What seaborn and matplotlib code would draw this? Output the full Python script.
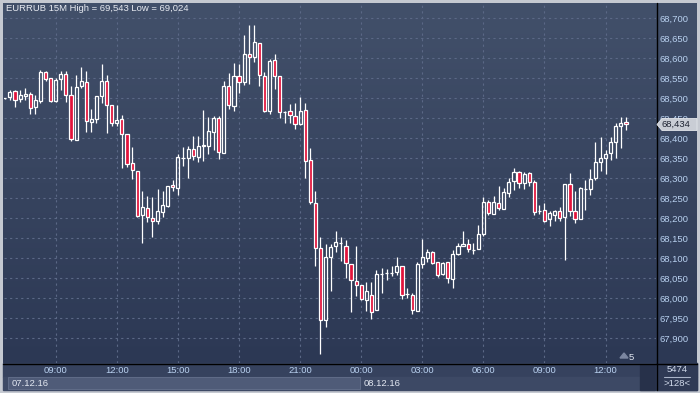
import numpy as np
import pandas as pd
import seaborn as sns
import matplotlib.pyplot as plt
from matplotlib.patches import Rectangle, Polygon

# EURRUB 15 minute candles, 07.12.16 06:30 -> 08.12.16 13:00
opens = [68.499, 68.502, 68.518, 68.497, 68.505, 68.510, 68.477, 68.492, 68.565, 68.549,
         68.492, 68.547, 68.560, 68.507, 68.395, 68.530, 68.540, 68.440, 68.447, 68.505,
         68.543, 68.482, 68.437, 68.448, 68.410, 68.337, 68.317, 68.207, 68.225, 68.200,
         68.192, 68.215, 68.229, 68.283, 68.274, 68.350, 68.350, 68.372, 68.352, 68.381,
         68.379, 68.415, 68.450, 68.363, 68.530, 68.479, 68.555, 68.539, 68.610, 68.602,
         68.637, 68.555, 68.467, 68.595, 68.555, 68.466, 68.468, 68.455, 68.435, 68.470,
         68.345, 68.237, 68.125, 67.946, 68.102, 68.131, 68.137, 68.130, 68.085, 68.042,
         68.032, 67.995, 68.007, 67.970, 68.059, 68.062, 68.062, 68.064, 68.080, 68.009,
         68.007, 67.967, 68.085, 68.100, 68.115, 68.090, 68.060, 68.090, 68.047, 68.110,
         68.130, 68.135, 68.120, 68.122, 68.160, 68.240, 68.210, 68.237, 68.222, 68.262,
         68.292, 68.315, 68.287, 68.312, 68.290, 68.218, 68.220, 68.197, 68.207, 68.217,
         68.202, 68.285, 68.217, 68.197, 68.272, 68.272, 68.300, 68.340, 68.350, 68.362,
         68.390, 68.430, 68.441]
highs = [68.501, 68.521, 68.521, 68.521, 68.525, 68.516, 68.507, 68.570, 68.568, 68.549,
         68.550, 68.568, 68.568, 68.531, 68.558, 68.578, 68.567, 68.472, 68.505, 68.586,
         68.558, 68.482, 68.482, 68.457, 68.410, 68.377, 68.317, 68.268, 68.254, 68.253,
         68.273, 68.268, 68.280, 68.295, 68.360, 68.377, 68.381, 68.404, 68.406, 68.471,
         68.452, 68.454, 68.454, 68.542, 68.562, 68.587, 68.584, 68.657, 68.683, 68.683,
         68.637, 68.566, 68.597, 68.611, 68.555, 68.467, 68.486, 68.487, 68.502, 68.487,
         68.375, 68.268, 68.152, 68.135, 68.135, 68.168, 68.152, 68.146, 68.085, 68.131,
         68.032, 68.039, 68.040, 68.070, 68.074, 68.073, 68.080, 68.102, 68.080, 68.025,
         68.012, 68.090, 68.148, 68.122, 68.117, 68.090, 68.090, 68.090, 68.120, 68.137,
         68.168, 68.147, 68.137, 68.182, 68.252, 68.245, 68.255, 68.280, 68.275, 68.300,
         68.325, 68.317, 68.315, 68.315, 68.295, 68.232, 68.237, 68.217, 68.220, 68.227,
         68.285, 68.312, 68.267, 68.277, 68.295, 68.322, 68.390, 68.402, 68.370, 68.402,
         68.437, 68.452, 68.452]
lows = [68.497, 68.494, 68.477, 68.489, 68.494, 68.461, 68.459, 68.487, 68.542, 68.489,
        68.489, 68.519, 68.489, 68.393, 68.395, 68.524, 68.416, 68.416, 68.437, 68.487,
        68.412, 68.429, 68.429, 68.324, 68.327, 68.297, 68.202, 68.137, 68.191, 68.153,
        68.185, 68.202, 68.227, 68.267, 68.257, 68.329, 68.300, 68.345, 68.341, 68.342,
        68.359, 68.369, 68.347, 68.362, 68.473, 68.468, 68.512, 68.533, 68.534, 68.589,
        68.529, 68.464, 68.461, 68.523, 68.451, 68.437, 68.437, 68.422, 68.432, 68.299,
        68.234, 68.079, 67.860, 67.927, 68.017, 68.115, 68.092, 68.049, 67.964, 68.004,
        67.994, 67.967, 67.947, 67.970, 68.012, 68.045, 68.056, 68.057, 67.997, 67.999,
        67.959, 67.967, 68.075, 68.090, 68.085, 68.052, 68.057, 68.037, 68.024, 68.107,
        68.130, 68.115, 68.110, 68.122, 68.155, 68.207, 68.210, 68.220, 68.222, 68.252,
        68.270, 68.275, 68.272, 68.280, 68.207, 68.210, 68.190, 68.180, 68.192, 68.192,
        68.094, 68.205, 68.187, 68.197, 68.220, 68.257, 68.295, 68.317, 68.310, 68.345,
        68.350, 68.375, 68.420]
closes = [68.499, 68.516, 68.495, 68.507, 68.510, 68.475, 68.496, 68.565, 68.547, 68.492,
          68.546, 68.560, 68.507, 68.397, 68.527, 68.542, 68.442, 68.448, 68.505, 68.543,
          68.482, 68.437, 68.446, 68.410, 68.335, 68.320, 68.204, 68.227, 68.202, 68.192,
          68.217, 68.232, 68.280, 68.278, 68.353, 68.351, 68.372, 68.355, 68.380, 68.382,
          68.418, 68.450, 68.365, 68.530, 68.482, 68.555, 68.539, 68.610, 68.602, 68.639,
          68.557, 68.467, 68.592, 68.555, 68.465, 68.466, 68.458, 68.435, 68.467, 68.342,
          68.239, 68.125, 67.946, 68.102, 68.127, 68.140, 68.137, 68.087, 68.045, 68.032,
          67.997, 68.017, 67.965, 68.060, 68.059, 68.062, 68.062, 68.080, 68.007, 68.009,
          67.970, 68.085, 68.102, 68.115, 68.087, 68.057, 68.087, 68.050, 68.110, 68.130,
          68.135, 68.122, 68.120, 68.160, 68.240, 68.212, 68.240, 68.225, 68.265, 68.290,
          68.315, 68.287, 68.310, 68.290, 68.215, 68.218, 68.192, 68.212, 68.217, 68.200,
          68.285, 68.217, 68.197, 68.275, 68.272, 68.297, 68.340, 68.350, 68.360, 68.390,
          68.430, 68.437, 68.434]

price_ticks = [67.90, 67.95, 68.00, 68.05, 68.10, 68.15, 68.20, 68.25, 68.30,
               68.35, 68.40, 68.45, 68.50, 68.55, 68.60, 68.65, 68.70]
price_labels = ['67,900', '67,950', '68,000', '68,050', '68,100', '68,150', '68,200',
                '68,250', '68,300', '68,350', '68,400', '68,450', '68,500', '68,550',
                '68,600', '68,650', '68,700']
time_labels = ['09:00', '12:00', '15:00', '18:00', '21:00',
               '00:00', '03:00', '06:00', '09:00', '12:00']
date_labels = ['07.12.16', '08.12.16']
title = 'EURRUB 15M High = 69,543 Low = 69,024'
last_price = '68,434'

df = pd.DataFrame(dict(time=pd.date_range('2016-12-07 06:30', periods=len(opens), freq='15min'),
                       open=opens, high=highs, low=lows, close=closes))
df['x'] = np.arange(len(df))
df['top'] = df[['open', 'close']].max(axis=1)
df['bot'] = df[['open', 'close']].min(axis=1)
df['down'] = df['close'] < df['open']
tick_pos = df.loc[(df.time.dt.minute == 0) & (df.time.dt.hour % 3 == 0), 'x'].values

sns.set_theme(style='dark', rc={'axes.facecolor': 'none', 'savefig.facecolor': '#c5c9d1'})
plt.rcParams['font.family'] = ['Liberation Sans', 'DejaVu Sans']

txt = '#b9d1f0'
red = '#e2133b'

fig = plt.figure(figsize=(7, 3.93), dpi=100, facecolor='#c5c9d1')

# background layer in pixel coordinates
bg = fig.add_axes([0, 0, 1, 1], zorder=0)
bg.set_xlim(0, 700)
bg.set_ylim(393, 0)
bg.axis('off')
grad = np.linspace(0, 1, 256)[:, None, None]
top_c = np.array([66, 80, 106]) / 255
bot_c = np.array([44, 56, 84]) / 255
bg.imshow(top_c * (1 - grad) + bot_c * grad, extent=(3, 697, 363, 3), aspect='auto')
bg.add_patch(Rectangle((3, 363), 694, 14, color='#36425e'))
bg.add_patch(Rectangle((3, 377), 694, 13, color='#3d4965'))
bg.add_patch(Rectangle((8, 377), 352, 12, facecolor='#4f5b78', edgecolor='#65718c', lw=0.6))
bg.add_patch(Rectangle((640, 365), 15, 25, color='#27314a'))
bg.add_patch(Rectangle((656, 363), 41, 27, color='#2f3a55'))
bg.plot([3, 697], [363.5, 363.5], color='black', lw=1)
bg.plot([656.5, 656.5], [3, 390], color='black', lw=1)

# candles
ax = fig.add_axes([4 / 700, 30 / 393, 652 / 700, 360 / 393], zorder=2)
ax.set_facecolor('none')
ax.vlines(df.x, df.top, df.high, color='white', lw=0.9)
ax.vlines(df.x, df.low, df.bot, color='white', lw=0.9)
ax.bar(df.x, df.top - df.bot, bottom=df.bot, width=0.62,
       color=np.where(df.down, red, 'none'), edgecolor='white', linewidth=0.9, zorder=3)

ax.set_xlim(-0.16, 127.9)
ax.set_ylim(67.8375, 68.7375)
ax.set_yticks(price_ticks)
ax.set_yticklabels(price_labels)
ax.set_xticks(tick_pos)
ax.set_xticklabels(time_labels)
ax.yaxis.tick_right()
ax.tick_params(axis='y', length=0, pad=2.2, labelsize=6.8, labelcolor=txt)
ax.tick_params(axis='x', length=0, pad=2.5, labelsize=6.8, labelcolor=txt)
ax.grid(True, color='#5b6886', lw=0.8, linestyle=(0, (2, 3)))
sns.despine(ax=ax, left=True, bottom=True)

# overlay texts and widgets
ov = fig.add_axes([0, 0, 1, 1], zorder=5)
ov.set_xlim(0, 700)
ov.set_ylim(393, 0)
ov.axis('off')
ov.set_facecolor('none')
ov.text(6, 8.5, title, fontsize=6.8, color='#e8ebf2', va='center', ha='left')
ov.text(12, 383.5, date_labels[0], fontsize=6.8, color='#e3e8f2', va='center')
ov.text(364, 383.5, date_labels[1], fontsize=6.8, color='#e3e8f2', va='center')
ov.add_patch(Polygon([(620, 358), (624, 353), (628, 358)], color='#7c87a1'))
ov.text(629, 357, '5', fontsize=6.8, color='#e3e8f2', va='center')
ov.text(677, 369.5, '5474', fontsize=6.8, color='#d0d9ea', va='center', ha='center')
ov.plot([664, 690], [376.5, 376.5], color='#aab4c8', lw=0.8)
ov.text(677, 383.5, '>128<', fontsize=6.8, color='#d0d9ea', va='center', ha='center')
ov.add_patch(Polygon([(657, 124.5), (662, 118.5), (697, 118.5), (697, 130.5), (662, 130.5)],
                     facecolor='#c9cdd5', edgecolor='#e3e6eb', lw=0.6))
ov.text(661, 124.8, last_price, fontsize=6.8, color='#1c2230', va='center', ha='left')

fig.savefig('out.png', dpi=100, facecolor=fig.get_facecolor())
